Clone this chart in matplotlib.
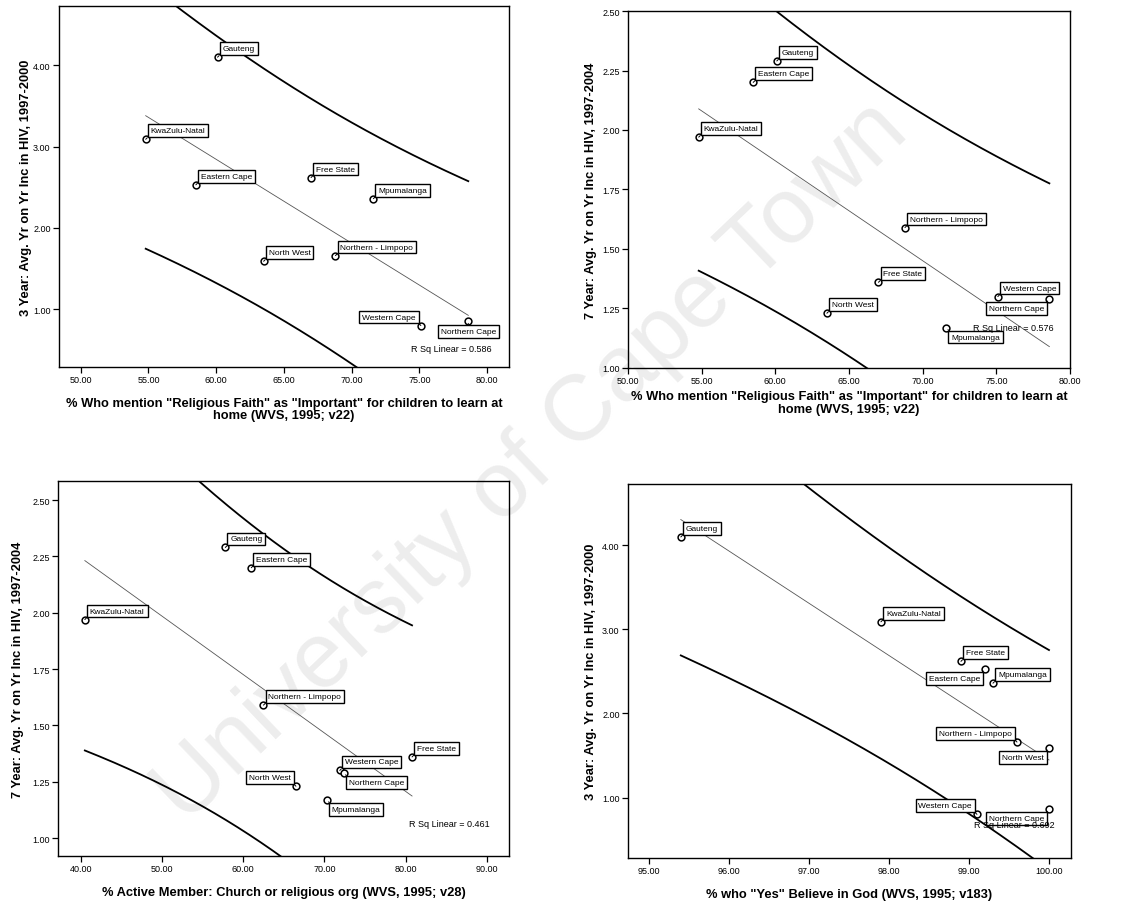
import numpy as np
import matplotlib
matplotlib.use("Agg")
import matplotlib.pyplot as plt

plt.rcParams["font.family"] = ["Liberation Sans", "DejaVu Sans"]

# ---------------- data ----------------
provinces = ["Gauteng", "KwaZulu-Natal", "Eastern Cape", "Free State", "Mpumalanga",
             "North West", "Northern - Limpopo", "Western Cape", "Northern Cape"]
faith_pct = [60.1, 54.8, 58.5, 67.0, 71.6, 63.5, 68.8, 75.1, 78.6]
church_pct = [57.8, 40.5, 61.0, 80.8, 70.3, 66.5, 62.5, 71.9, 72.4]
god_pct = [95.4, 97.9, 99.2, 98.9, 99.3, 100.0, 99.6, 99.1, 100.0]
hiv_3yr = [4.10, 3.09, 2.53, 2.62, 2.36, 1.59, 1.66, 0.80, 0.86]
hiv_7yr = [2.29, 1.97, 2.20, 1.36, 1.17, 1.23, 1.59, 1.30, 1.29]
r2_text = ["0.586", "0.576", "0.461", "0.692"]

xlabel_faith = '% Who mention "Religious Faith" as "Important" for children to learn at\nhome (WVS, 1995; v22)'
xlabel_church = "% Active Member: Church or religious org (WVS, 1995; v28)"
xlabel_god = '% who "Yes" Believe in God (WVS, 1995; v183)'
ylabel_3 = "3 Year: Avg. Yr on Yr Inc in HIV, 1997-2000"
ylabel_7 = "7 Year: Avg. Yr on Yr Inc in HIV, 1997-2004"

T_95_DF7 = 1.895  # 90% prediction interval, 7 df

# label placements (per panel, per province)
place = [
    ["ur", "ur", "ur", "ur", "ur", "ur", "ur", "ul", "lc"],
    ["ur", "ur", "ur", "ur", "lr", "ur", "ur", "ur", "ll"],
    ["ur", "ur", "ur", "ur", "lr", "ul", "ur", "ur", "lr"],
    ["ur", "ur", "ll", "ur", "ur", "ll", "ul", "ul", "ll"],
]
offs = {
    "ur": (5, 5, "left", "bottom", (0, 0)),
    "ul": (-5, 5, "right", "bottom", (1, 0)),
    "lr": (5, -6, "left", "top", (0, 1)),
    "ll": (-5, -6, "right", "top", (1, 1)),
    "lc": (0, -7, "center", "top", (0.5, 1)),
}

panels = [
    dict(x=faith_pct, y=hiv_3yr, rect=[0.0524, 0.5925, 0.400, 0.3998],
         xlim=(48.4, 81.6), ylim=(0.29, 4.73), xt=np.arange(50, 80.1, 5),
         yt=[1, 2, 3, 4], xl=xlabel_faith, yl=ylabel_3, r2pos=(0.961, 0.05),
         xpad=9, ypad=1),
    dict(x=faith_pct, y=hiv_7yr, rect=[0.5582, 0.5914, 0.3929, 0.3953],
         xlim=(50, 80), ylim=(1.0, 2.5), xt=np.arange(50, 80.1, 5),
         yt=[1.0, 1.25, 1.5, 1.75, 2.0, 2.25, 2.5], xl=xlabel_faith, yl=ylabel_7,
         r2pos=(0.962, 0.112), xpad=3.5, ypad=3.5),
    dict(x=church_pct, y=hiv_7yr, rect=[0.0516, 0.0509, 0.4009, 0.4153],
         xlim=(37.2, 92.75), ylim=(0.92, 2.585), xt=np.arange(40, 90.1, 10),
         yt=[1.0, 1.25, 1.5, 1.75, 2.0, 2.25, 2.5], xl=xlabel_church, yl=ylabel_7,
         r2pos=(0.958, 0.086), xpad=9, ypad=6),
    dict(x=god_pct, y=hiv_3yr, rect=[0.5582, 0.0487, 0.3938, 0.4142],
         xlim=(94.74, 100.275), ylim=(0.28, 4.73), xt=np.arange(95, 100.1, 1),
         yt=[1, 2, 3, 4], xl=xlabel_god, yl=ylabel_3, r2pos=(0.962, 0.089),
         xpad=9, ypad=3.5),
]

fig = plt.figure(figsize=(11.25, 9.03), dpi=100)
fig.patch.set_facecolor("white")

fig.text(0.473, 0.487, "University of Cape Town", rotation=43.6, fontsize=67,
         color="#ededed", ha="center", va="center", zorder=-5)

for pi, p in enumerate(panels):
    ax = fig.add_axes(p["rect"])
    ax.set_facecolor("none")
    x = np.array(p["x"], dtype=float)
    y = np.array(p["y"], dtype=float)
    n = len(x)
    b, a = np.polyfit(x, y, 1)
    xs = np.linspace(x.min(), x.max(), 200)
    yhat = a + b * xs
    resid = y - (a + b * x)
    s = np.sqrt(np.sum(resid ** 2) / (n - 2))
    sxx = np.sum((x - x.mean()) ** 2)
    half = T_95_DF7 * s * np.sqrt(1 + 1 / n + (xs - x.mean()) ** 2 / sxx)
    ax.plot(xs, yhat, color="#555555", lw=0.6, zorder=2)
    ax.plot(xs, yhat + half, color="black", lw=1.3, zorder=2)
    ax.plot(xs, yhat - half, color="black", lw=1.3, zorder=2)
    ax.scatter(x, y, s=24, facecolors="white", edgecolors="black", linewidths=1.1, zorder=4)
    for i, name in enumerate(provinces):
        dx, dy, ha, va, rp = offs[place[pi][i]]
        ax.annotate(name, (x[i], y[i]), xytext=(dx, dy), textcoords="offset pixels",
                    ha=ha, va=va, fontsize=6, zorder=5,
                    bbox=dict(boxstyle="square,pad=0.35", fc="white", ec="black", lw=1.0),
                    arrowprops=dict(arrowstyle="-", lw=0.7, color="black", relpos=rp,
                                    shrinkA=0, shrinkB=2))
    ax.text(p["r2pos"][0], p["r2pos"][1], "R Sq Linear = " + r2_text[pi],
            transform=ax.transAxes, ha="right", va="center", fontsize=6.5, zorder=6)
    ax.set_xlim(*p["xlim"])
    ax.set_ylim(*p["ylim"])
    ax.set_xticks(p["xt"])
    ax.set_yticks(p["yt"])
    ax.xaxis.set_major_formatter(matplotlib.ticker.FormatStrFormatter("%.2f"))
    ax.yaxis.set_major_formatter(matplotlib.ticker.FormatStrFormatter("%.2f"))
    ax.tick_params(labelsize=6.5, length=4.5, width=0.9, direction="out", pad=1.5)
    for sp in ax.spines.values():
        sp.set_linewidth(1.0)
    ax.set_xlabel(p["xl"], fontsize=9.3, fontweight="bold", labelpad=p["xpad"],
                  linespacing=1.05)
    ax.set_ylabel(p["yl"], fontsize=9.3, fontweight="bold", labelpad=p["ypad"])

fig.savefig("out.png", dpi=100, facecolor="white")
